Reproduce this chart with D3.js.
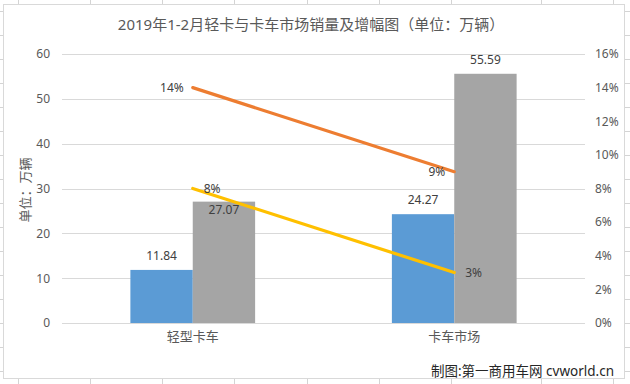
<!DOCTYPE html>
<html lang="zh">
<head>
	<meta charset="utf-8"/>
	<title>2019年1-2月轻卡与卡车市场销量及增幅图</title>
	<script src="https://d3js.org/d3.v7.min.js"></script>
	<style>
		body { margin: 0; background: #ffffff; }
		text { font-family: "Noto Sans", "Noto Sans CJK SC", sans-serif; }
	</style>
</head>
<body>
<script>
// chart data
	var categories = ["轻型卡车", "卡车市场"];
	var seriesNames = ["销量A", "销量B"];
	var salesA = [11.84, 24.27]; // blue bars
	var salesB = [27.07, 55.59]; // grey bars
	var growthA = [0.14, 0.09]; // orange line
	var growthB = [0.08, 0.03]; // yellow line
	var leftTicks = [0, 10, 20, 30, 40, 50, 60];
	var rightTicks = [0, 0.02, 0.04, 0.06, 0.08, 0.10, 0.12, 0.14, 0.16];

	var w = 630;
	var h = 384;
	var barColours = ["#5B9BD5", "#A5A5A5"];
	var lineColours = ["#ED7D31", "#FFC000"];
	var textColour = "#595959";

// plot area (window.top is read only, so no plain "top")
	var plotLeft = 62, plotRight = 585, plotTop = 54, plotBottom = 323;

	var svg = d3.select("body")
				.append("svg")
				.attr("width", w)
				.attr("height", h);

// spreadsheet cell grid peeking round the chart box
	var cellCols = [18, 90, 162, 234, 307, 379, 451, 541, 613];
	var cellRows = d3.range(11, 384, 24);
	svg.selectAll("line.colTop")
		.data(cellCols).enter().append("line")
		.attr("x1", function(d) {return d + 0.5;}).attr("x2", function(d) {return d + 0.5;})
		.attr("y1", 0).attr("y2", 4)
		.attr("stroke", "#D4D4D4");
	svg.selectAll("line.colBottom")
		.data(cellCols).enter().append("line")
		.attr("x1", function(d) {return d + 0.5;}).attr("x2", function(d) {return d + 0.5;})
		.attr("y1", 379).attr("y2", h)
		.attr("stroke", "#D4D4D4");
	svg.selectAll("line.rowLeft")
		.data(cellRows).enter().append("line")
		.attr("x1", 0).attr("x2", 3)
		.attr("y1", function(d) {return d + 0.5;}).attr("y2", function(d) {return d + 0.5;})
		.attr("stroke", "#D4D4D4");
	svg.selectAll("line.rowRight")
		.data(cellRows).enter().append("line")
		.attr("x1", 625).attr("x2", w)
		.attr("y1", function(d) {return d + 0.5;}).attr("y2", function(d) {return d + 0.5;})
		.attr("stroke", "#D4D4D4");

// chart box
	svg.append("rect")
		.attr("x", 3.5).attr("y", 4.5)
		.attr("width", 621).attr("height", 374)
		.attr("fill", "#ffffff")
		.attr("stroke", "#D9D9D9");

// scales
	var xScale = d3.scaleBand()
				.domain(categories)
				.range([plotLeft, plotRight])
				.paddingInner(0.523)
				.paddingOuter(0.2615);

	var xSub = d3.scaleBand()
				.domain(seriesNames)
				.range([0, xScale.bandwidth()]);

	var yScale = d3.scaleLinear()
				.domain([0, 60])
				.range([plotBottom, plotTop]);

	var yRight = d3.scaleLinear()
				.domain([0, 0.16])
				.range([plotBottom, plotTop]);

// gridlines
	svg.selectAll("line.grid")
		.data(leftTicks).enter().append("line")
		.attr("x1", plotLeft).attr("x2", plotRight)
		.attr("y1", function(d) {return Math.round(yScale(d)) + 0.5;})
		.attr("y2", function(d) {return Math.round(yScale(d)) + 0.5;})
		.attr("stroke", "#D9D9D9");

// left axis
	var leftAxis = svg.append("g")
				.attr("transform", "translate(" + (plotLeft - 12) + ",0)")
				.call(d3.axisLeft(yScale).tickValues(leftTicks).tickSize(0).tickPadding(0));
	leftAxis.select(".domain").remove();
	leftAxis.selectAll("text").attr("fill", textColour).attr("font-size", "12px");

// right axis
	var rightAxis = svg.append("g")
				.attr("transform", "translate(" + (plotRight + 10) + ",0)")
				.call(d3.axisRight(yRight).tickValues(rightTicks).tickSize(0).tickPadding(0).tickFormat(d3.format(".0%")));
	rightAxis.select(".domain").remove();
	rightAxis.selectAll("text").attr("fill", textColour).attr("font-size", "12px");

// category axis
	var bottomAxis = svg.append("g")
				.attr("transform", "translate(0," + (plotBottom + 10) + ")")
				.call(d3.axisBottom(xScale).tickSize(0).tickPadding(0));
	bottomAxis.select(".domain").remove();
	bottomAxis.selectAll("text")
		.attr("fill", textColour)
		.attr("font-size", "13px")
		.attr("font-family", "Noto Sans CJK SC")
		.attr("dy", "0.6em");

// bars
	var barSets = [salesA, salesB];
	barSets.forEach(function(values, s) {
		svg.selectAll("rect.bar" + s)
			.data(values).enter().append("rect")
			.attr("x", function(d, i) {return xScale(categories[i]) + xSub(seriesNames[s]);})
			.attr("y", function(d) {return yScale(d);})
			.attr("width", xSub.bandwidth())
			.attr("height", function(d) {return plotBottom - yScale(d);})
			.attr("fill", barColours[s]);
	});

// bar labels (27.07 was dragged down into its bar)
	var barLabelDy = [[-10, -10], [12, -10]];
	barSets.forEach(function(values, s) {
		svg.selectAll("text.barLabel" + s)
			.data(values).enter().append("text")
			.attr("x", function(d, i) {return xScale(categories[i]) + xSub(seriesNames[s]) + xSub.bandwidth() / 2;})
			.attr("y", function(d, i) {return yScale(d) + barLabelDy[s][i];})
			.attr("text-anchor", "middle")
			.attr("font-size", "12px")
			.attr("fill", "#404040")
			.text(function(d) {return d.toFixed(2);});
	});

// growth lines
	var lineSets = [growthA, growthB];
	var line = d3.line()
				.x(function(d, i) {return xScale(categories[i]) + xScale.bandwidth() / 2;})
				.y(function(d) {return yRight(d);});

	lineSets.forEach(function(values, s) {
		svg.append("path")
			.datum(values)
			.attr("d", line)
			.attr("fill", "none")
			.attr("stroke", lineColours[s])
			.attr("stroke-width", 3.2)
			.attr("stroke-linecap", "round");

		// orange labels sit left of the point, yellow ones right
		svg.selectAll("text.lineLabel" + s)
			.data(values).enter().append("text")
			.attr("x", function(d, i) {return xScale(categories[i]) + xScale.bandwidth() / 2 + (s == 0 ? -9 : 11);})
			.attr("y", function(d) {return yRight(d);})
			.attr("dy", "0.35em")
			.attr("text-anchor", s == 0 ? "end" : "start")
			.attr("font-size", "12px")
			.attr("fill", "#404040")
			.text(function(d) {return Math.round(d * 100) + "%";});
	});

// title
	svg.append("text")
		.attr("x", 311)
		.attr("y", 30)
		.attr("text-anchor", "middle")
		.attr("font-family", "Noto Sans CJK SC")
		.attr("font-size", "15px")
		.attr("fill", textColour)
		.text("2019年1-2月轻卡与卡车市场销量及增幅图（单位：万辆）");

// left axis title
	svg.append("text")
		.attr("transform", "translate(30,190) rotate(-90)")
		.attr("text-anchor", "middle")
		.attr("font-family", "Noto Sans CJK SC")
		.attr("font-size", "13px")
		.attr("fill", textColour)
		.text("单位：万辆");

// source note
	svg.append("text")
		.attr("x", 614)
		.attr("y", 376)
		.attr("text-anchor", "end")
		.attr("font-family", "Noto Sans CJK SC")
		.attr("font-size", "13.5px")
		.attr("fill", "#262626")
		.text("制图:第一商用车网 cvworld.cn");
</script>
</body>
</html>
